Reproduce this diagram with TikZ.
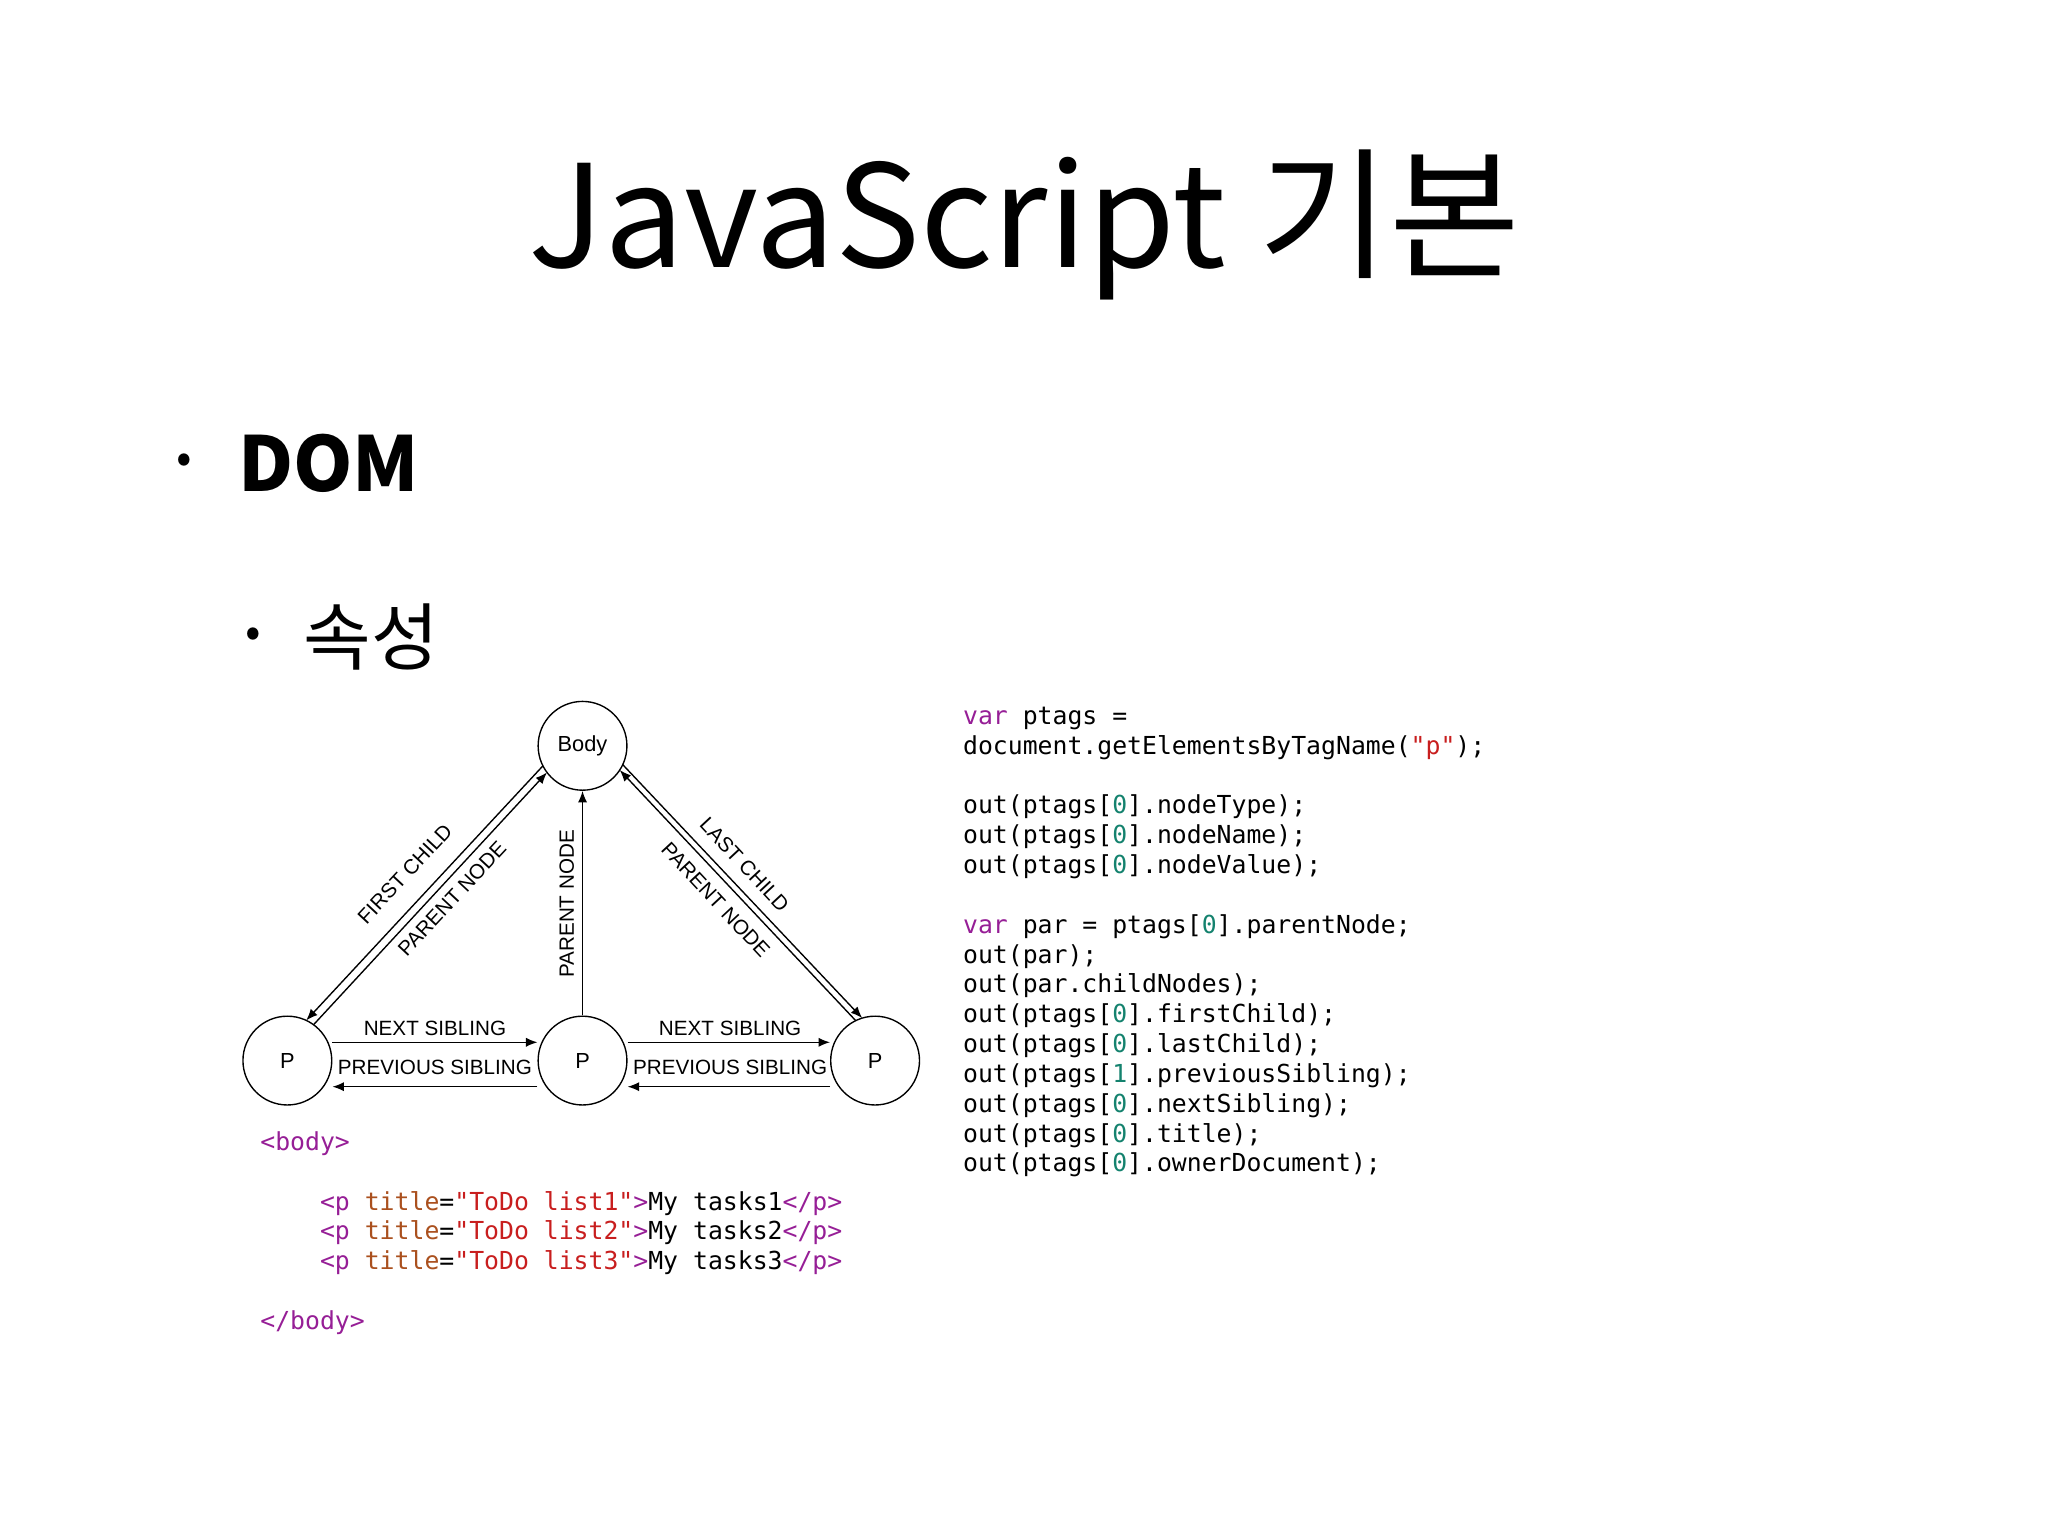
\documentclass[tikz,border=0pt]{standalone}
\usepackage{fontspec}
\usetikzlibrary{calc,arrows.meta}
\setmainfont{Noto Sans CJK KR}
\newfontfamily\diag{Liberation Sans}
\newfontfamily\code{DejaVu Sans Mono}
\definecolor{kw}{RGB}{150,30,150}
\definecolor{str}{RGB}{200,30,30}
\definecolor{num}{RGB}{20,130,110}
\definecolor{attr}{RGB}{170,80,30}
\tikzset{
 cnode/.style={circle,draw,semithick,minimum size=1.36cm,inner sep=0pt,font=\diag\fontsize{9.5}{11}\selectfont},
 lab/.style={font=\diag\fontsize{9}{10}\selectfont,inner sep=1pt},
 arr/.style={-{Latex[length=5pt,width=4pt]},semithick},
 codetxt/.style={anchor=north west,align=left,inner sep=0pt,font=\code\fontsize{10.8}{13}\selectfont}
}
\newcommand{\kw}[1]{\textcolor{kw}{#1}}
\newcommand{\st}[1]{\textcolor{str}{#1}}
\newcommand{\nm}[1]{\textcolor{num}{#1}}
\newcommand{\at}[1]{\textcolor{attr}{#1}}
\begin{document}
\begin{tikzpicture}[x=0.02cm,y=-0.02cm]
\useasboundingbox (0,0) rectangle (1568,1176);
\node (title) at (784,172) {\fontsize{62}{66}\selectfont JavaScript 기본};
\node (b1) at (141,355) {\fontsize{20}{22}\selectfont •};
\node[anchor=west,inner sep=0pt] (dom) at (182,355) {\fontsize{33}{38}\selectfont\bfseries DOM};
\node (b2) at (194,488) {\fontsize{20}{22}\selectfont •};
\node[anchor=west,inner sep=0pt] (sok) at (232,488) {\fontsize{32}{36}\selectfont 속성};

\node[cnode] (body) at (446,571) {Body};
\node[cnode] (pl) at (220,812) {P};
\node[cnode] (pm) at (446,812) {P};
\node[cnode] (pr) at (670,812) {P};

% left diagonal
\draw[arr] ($(body)!0.68cm!-20:(pl)$) -- ($(pl)!0.68cm!18:(body)$);
\draw[arr] ($(pl)!0.68cm!7:(body)$) -- ($(body)!0.68cm!-10:(pl)$);
\node[lab,rotate=47] (fc) at (310,669) {FIRST CHILD};
\node[lab,rotate=47] (pn1) at (346,688) {PARENT NODE};
% right diagonal
\draw[arr] ($(body)!0.68cm!22:(pr)$) -- ($(pr)!0.68cm!-26:(body)$);
\draw[arr] ($(pr)!0.68cm!-17:(body)$) -- ($(body)!0.68cm!14:(pr)$);
\node[lab,rotate=-47] (lc) at (570,662) {LAST CHILD};
\node[lab,rotate=-47] (pn3) at (548,689) {PARENT NODE};
% vertical
\draw[arr] (pm.north) -- (body.south);
\node[lab,rotate=90] (pn2) at (434,692) {PARENT NODE};
% horizontal
\draw[arr] (pl.east |- 0,798) -- (pm.west |- 0,798);
\draw[arr] (pm.west |- 0,832) -- (pl.east |- 0,832);
\draw[arr] (pm.east |- 0,798) -- (pr.west |- 0,798);
\draw[arr] (pr.west |- 0,832) -- (pm.east |- 0,832);
\node[lab] (ns1) at (333,787) {NEXT SIBLING};
\node[lab] (ps1) at (333,817) {PREVIOUS SIBLING};
\node[lab] (ns2) at (559,787) {NEXT SIBLING};
\node[lab] (ps2) at (559,817) {PREVIOUS SIBLING};

\node[codetxt] (html) at (199,866) {\kw{<body>}\\[13pt]
\hspace*{4\fontcharwd\font`0}\kw{<p} \at{title}=\st{"ToDo list1"}\kw{>}My tasks1\kw{</p>}\\
\hspace*{4\fontcharwd\font`0}\kw{<p} \at{title}=\st{"ToDo list2"}\kw{>}My tasks2\kw{</p>}\\
\hspace*{4\fontcharwd\font`0}\kw{<p} \at{title}=\st{"ToDo list3"}\kw{>}My tasks3\kw{</p>}\\[13pt]
\kw{</body>}};

\node[codetxt] (js) at (737,541) {\kw{var} ptags =\\
document.getElementsByTagName(\st{"p"});\\[13pt]
out(ptags[\nm{0}].nodeType);\\
out(ptags[\nm{0}].nodeName);\\
out(ptags[\nm{0}].nodeValue);\\[13pt]
\kw{var} par = ptags[\nm{0}].parentNode;\\
out(par);\\
out(par.childNodes);\\
out(ptags[\nm{0}].firstChild);\\
out(ptags[\nm{0}].lastChild);\\
out(ptags[\nm{1}].previousSibling);\\
out(ptags[\nm{0}].nextSibling);\\
out(ptags[\nm{0}].title);\\
out(ptags[\nm{0}].ownerDocument);};
\end{tikzpicture}
\end{document}
